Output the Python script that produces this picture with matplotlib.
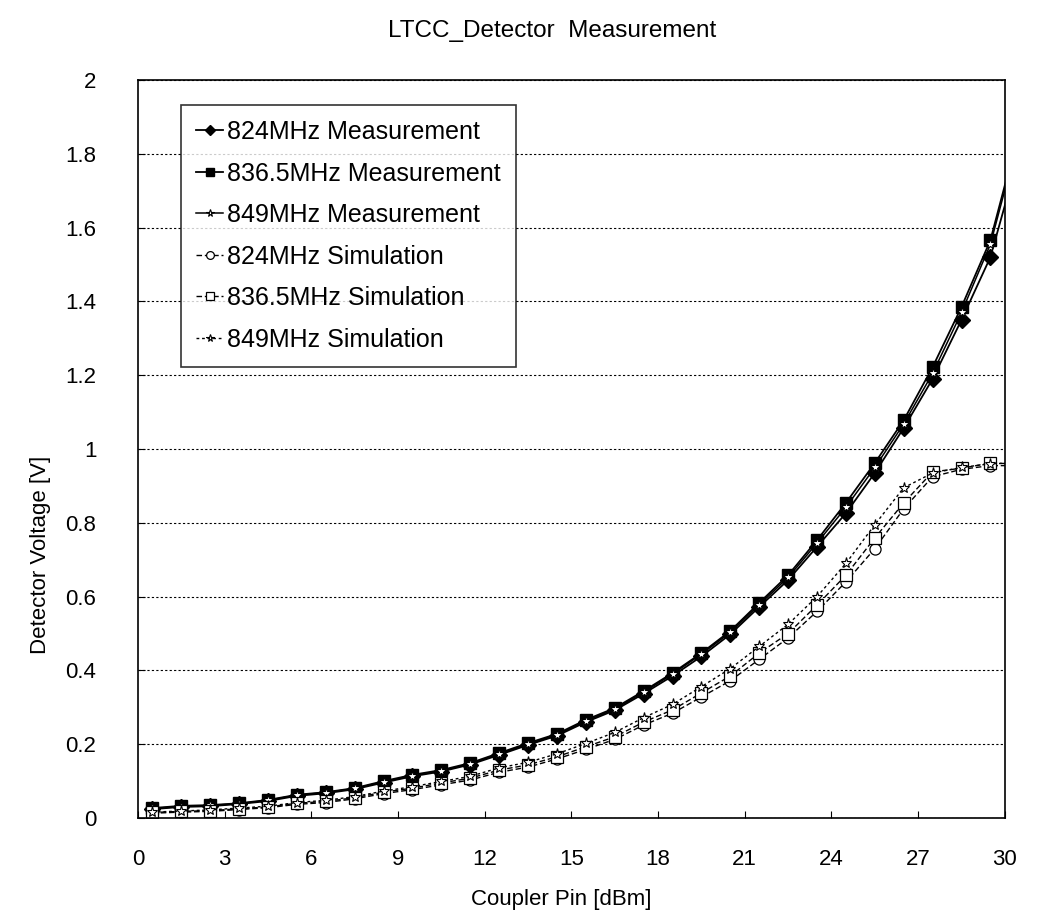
import matplotlib
matplotlib.use("Agg")
import matplotlib.pyplot as plt

plt.rcParams['font.family'] = ['Liberation Sans', 'DejaVu Sans']

# Coupler input power [dBm]; last point lies just past the axis end and gets clipped
pin = [0.5, 1.5, 2.5, 3.5, 4.5, 5.5, 6.5, 7.5, 8.5, 9.5,
       10.5, 11.5, 12.5, 13.5, 14.5, 15.5, 16.5, 17.5, 18.5, 19.5,
       20.5, 21.5, 22.5, 23.5, 24.5, 25.5, 26.5, 27.5, 28.5, 29.5, 30.3]

meas_824 = [0.024, 0.030, 0.032, 0.038, 0.046, 0.060, 0.067, 0.078, 0.096, 0.113,
            0.126, 0.145, 0.171, 0.198, 0.223, 0.260, 0.292, 0.337, 0.385, 0.438,
            0.498, 0.572, 0.645, 0.735, 0.826, 0.935, 1.057, 1.190, 1.350, 1.520, 1.744]
meas_836 = [0.027, 0.033, 0.035, 0.040, 0.049, 0.063, 0.070, 0.081, 0.100, 0.117,
            0.130, 0.149, 0.176, 0.203, 0.228, 0.266, 0.298, 0.344, 0.393, 0.447,
            0.507, 0.583, 0.658, 0.753, 0.854, 0.962, 1.078, 1.222, 1.385, 1.566, 1.804]
meas_849 = [0.026, 0.031, 0.034, 0.039, 0.048, 0.062, 0.069, 0.080, 0.098, 0.115,
            0.128, 0.147, 0.174, 0.200, 0.226, 0.263, 0.295, 0.341, 0.390, 0.444,
            0.503, 0.578, 0.652, 0.745, 0.842, 0.950, 1.068, 1.205, 1.370, 1.555, 1.790]

sim_824 = [0.013, 0.016, 0.018, 0.023, 0.028, 0.037, 0.042, 0.052, 0.066, 0.077,
           0.090, 0.103, 0.124, 0.138, 0.160, 0.186, 0.213, 0.252, 0.284, 0.328,
           0.372, 0.430, 0.488, 0.560, 0.640, 0.730, 0.838, 0.925, 0.945, 0.955, 0.955]
sim_836 = [0.015, 0.018, 0.020, 0.025, 0.030, 0.040, 0.045, 0.055, 0.070, 0.081,
           0.095, 0.108, 0.130, 0.144, 0.166, 0.193, 0.220, 0.260, 0.293, 0.339,
           0.385, 0.447, 0.500, 0.577, 0.658, 0.759, 0.854, 0.938, 0.948, 0.962, 0.960]
sim_849 = [0.016, 0.019, 0.022, 0.027, 0.032, 0.042, 0.048, 0.058, 0.073, 0.085,
           0.099, 0.113, 0.136, 0.151, 0.174, 0.202, 0.232, 0.272, 0.308, 0.356,
           0.405, 0.465, 0.525, 0.600, 0.690, 0.795, 0.895, 0.935, 0.950, 0.960, 0.962]

fig = plt.figure(figsize=(10.37, 9.24), dpi=100)
ax = fig.add_axes([0.133, 0.1147, 0.836, 0.7987])

ax.plot(pin, meas_824, '-', color='black', lw=1.3, marker='D', ms=8,
        mfc='black', mec='black', label='824MHz Measurement')
ax.plot(pin, meas_836, '-', color='black', lw=1.3, marker='s', ms=9,
        mfc='black', mec='black', label='836.5MHz Measurement')
ax.plot(pin, meas_849, '-', color='black', lw=1.1, marker='*', ms=8,
        mfc='white', mec='black', mew=0.8, label='849MHz Measurement')
ax.plot(pin, sim_824, color='black', lw=1.0, ls=(0, (4, 2)), marker='o', ms=8,
        mfc='white', mec='black', mew=0.9, label='824MHz Simulation')
ax.plot(pin, sim_836, color='black', lw=1.0, ls=(0, (4, 2)), marker='s', ms=8,
        mfc='white', mec='black', mew=0.9, label='836.5MHz Simulation')
ax.plot(pin, sim_849, color='black', lw=1.0, ls=(0, (2, 2)), marker='*', ms=8,
        mfc='white', mec='black', mew=0.8, label='849MHz Simulation')

ax.set_xlim(0, 30)
ax.set_ylim(0, 2)
ax.set_xticks([0, 3, 6, 9, 12, 15, 18, 21, 24, 27, 30])
ax.set_yticks([0, 0.2, 0.4, 0.6, 0.8, 1, 1.2, 1.4, 1.6, 1.8, 2])
ax.set_yticklabels(['0', '0.2', '0.4', '0.6', '0.8', '1', '1.2', '1.4', '1.6', '1.8', '2'])
ax.tick_params(direction='in', length=5, labelsize=16)
ax.tick_params(axis='x', pad=22)
ax.tick_params(axis='y', pad=30)
ax.yaxis.grid(True, color='black', ls=(0, (2, 2)), lw=0.8)
ax.set_axisbelow(True)
for s in ax.spines.values():
    s.set_linewidth(1.2)

ax.set_xlabel('Coupler Pin [dBm]', fontsize=16)
ax.xaxis.set_label_coords(0.488, -0.096)
ax.set_ylabel('Detector Voltage [V]', fontsize=16)
ax.yaxis.set_label_coords(-0.1, 0.356)
fig.text(0.532, 0.966, 'LTCC_Detector  Measurement', ha='center', va='center', fontsize=17.5)

leg = ax.legend(loc='upper left', bbox_to_anchor=(0.035, 0.983), fontsize=18,
                frameon=True, fancybox=False, edgecolor='black', handlelength=1.1,
                handletextpad=0.15, labelspacing=0.7, borderpad=0.6, markerscale=0.7)
leg.get_frame().set_linewidth(1.2)

plt.savefig('out.png', dpi=100)
